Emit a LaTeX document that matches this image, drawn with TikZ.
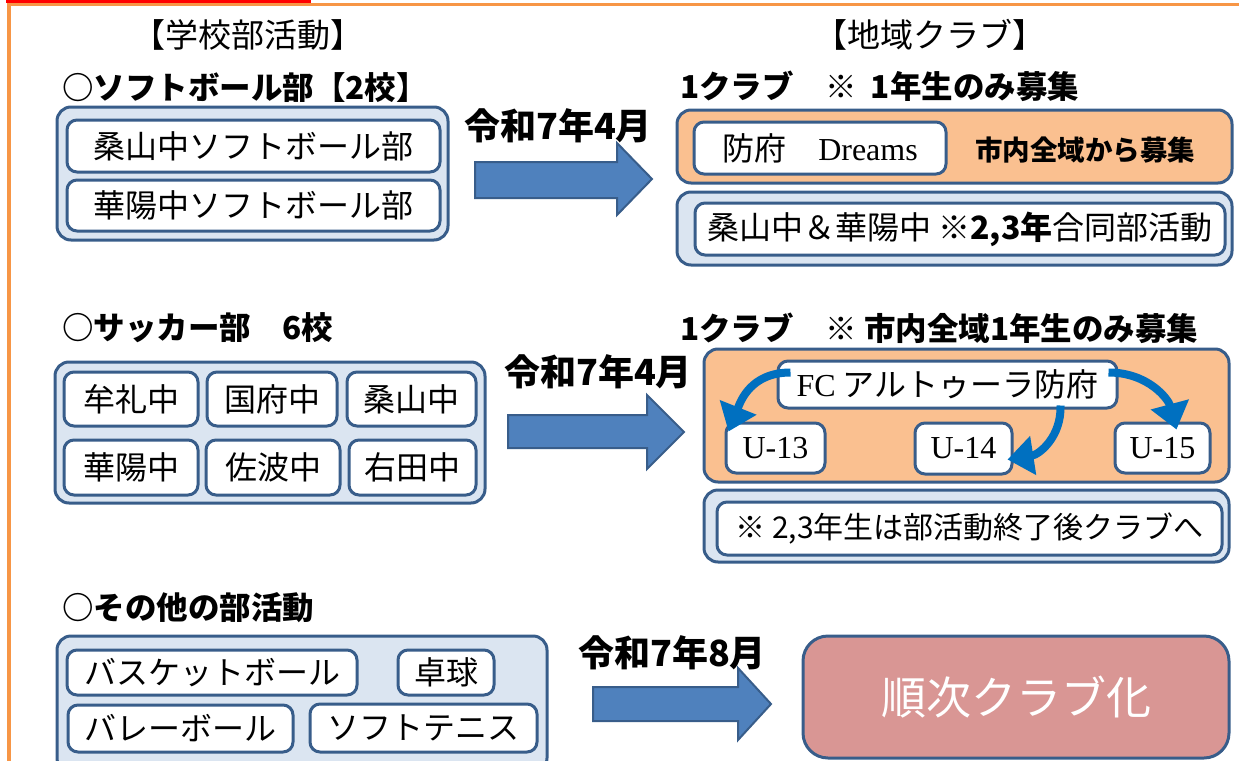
\documentclass[tikz,border=0pt]{standalone}
\usepackage{fontspec}
\setmainfont{Noto Sans CJK JP}
\newfontfamily\latinserif{Liberation Serif}
\usetikzlibrary{arrows.meta, calc}

\definecolor{navy}{HTML}{385D8A}
\definecolor{paleblue}{HTML}{DBE5F1}
\definecolor{peach}{HTML}{FAC090}
\definecolor{rose}{HTML}{D99694}
\definecolor{steel}{HTML}{4F81BD}
\definecolor{vivid}{HTML}{0070C0}
\definecolor{frame}{HTML}{F79646}

\begin{document}
\begin{tikzpicture}[
          x=1pt, y=-1pt,
          panel/.style={draw=navy,line width=3pt,fill=paleblue,rounded corners=14pt},
          cell/.style={draw=navy,line width=3pt,fill=white,rounded corners=10pt,inner sep=0pt,font=\fontsize{32}{36}\selectfont},
          heading/.style={anchor=west,inner sep=0pt,font=\fontsize{31.5}{36}\selectfont\bfseries},
          when/.style={inner sep=0pt,font=\fontsize{36}{40}\selectfont\bfseries},
          push/.style={draw=navy,line width=2pt,fill=steel},
          branch/.style={draw=vivid,line width=8pt,-{Triangle[length=26pt,width=38pt]}},
        ]
        \useasboundingbox (0, 0) rectangle (1239, 760);

        % frame
        \draw[frame, line width=3.5pt] (9, 765) -- (9, 4.7) -- (1239, 4.7);
        \fill[red] (6, 0) rectangle (311, 2.7);

        \node[inner sep=0pt, font=\fontsize{33}{36}\selectfont] (hdSchool) at (248, 35) {【学校部活動】};
        \node[inner sep=0pt, font=\fontsize{33}{36}\selectfont] (hdClub) at (930, 35) {【地域クラブ】};

        % softball
        \node[heading] (ttlSoft) at (62, 88) {○ソフトボール部【2校】};
        \draw[panel] (57, 107) rectangle (448, 240);
        \node[cell, minimum width=373, minimum height=52] (sftKuwa) at (253.5, 146) {桑山中ソフトボール部};
        \node[cell, minimum width=373, minimum height=51] (sftKayo) at (253.5, 205.5) {華陽中ソフトボール部};

        \node[when] (dateSoft) at (558, 126) {令和7年4月};
        \draw[push] (475, 162) -- (617, 162) -- (617, 143) -- (652, 179) -- (617, 215) -- (617, 198) -- (475, 198) -- cycle;

        \node[heading] (clubSoft) at (680, 86) {1クラブ　※\hspace{14pt}1年生のみ募集};
        \draw[panel, fill=peach] (677, 110) rectangle (1232, 183);
        \node[cell, minimum width=252, minimum height=52] (dreams) at (820, 148) {防府　{\latinserif Dreams}};
        \node[inner sep=0pt, font=\fontsize{27.5}{32}\selectfont\bfseries] (recruit) at (1085, 150) {市内全域から募集};
        \draw[panel] (677, 192) rectangle (1232, 265);
        \node[cell, minimum width=530, minimum height=52] (joint) at (960, 229) {桑山中＆華陽中 {\bfseries ※2,3年}合同部活動};

        % soccer
        \node[heading] (ttlSoccer) at (62, 328) {○サッカー部　6校};
        \draw[panel] (55, 362) rectangle (485, 503);
        \node[cell, minimum width=134, minimum height=54] (mure) at (131, 399) {牟礼中};
        \node[cell, minimum width=130, minimum height=54] (kokufu) at (272, 399) {国府中};
        \node[cell, minimum width=129, minimum height=54] (kuwa) at (411.5, 399) {桑山中};
        \node[cell, minimum width=134, minimum height=55] (kayo) at (131, 467.5) {華陽中};
        \node[cell, minimum width=134, minimum height=55] (sawa) at (273, 467.5) {佐波中};
        \node[cell, minimum width=127, minimum height=55] (migita) at (412.5, 467.5) {右田中};

        \node[when] (dateSoccer) at (598, 372) {令和7年4月};
        \draw[push] (508, 415) -- (647, 415) -- (647, 395) -- (684, 432) -- (647, 469) -- (647, 448) -- (508, 448) -- cycle;

        \node[heading] (clubSoccer) at (680, 328) {1クラブ　※ 市内全域1年生のみ募集};
        \draw[panel, fill=peach] (704, 349) rectangle (1229, 482);
        \node[cell, minimum width=339, minimum height=47] (fc) at (947.5, 384.5) {{\latinserif FC} アルトゥーラ防府};
        \node[cell, minimum width=99, minimum height=50] (u13) at (775.5, 448) {\latinserif U-13};
        \node[cell, minimum width=97, minimum height=51] (u14) at (963.5, 448.5) {\latinserif U-14};
        \node[cell, minimum width=95, minimum height=50] (u15) at (1162.5, 448) {\latinserif U-15};

        \draw[branch] ($(fc.west)+(14,-12)$) .. controls +(-40,0) and +(12,-30) .. ($(u13.north west)+(4,10)$);
        \draw[branch] ($(fc.east)+(-10,-12)$) .. controls +(40,0) and +(-8,-30) .. ($(u15.north)+(14,8)$);
        \draw[branch] ($(fc.south east)+(-58,-4)$) .. controls +(1,31) and +(32,-5) .. ($(u14.east)+(-6,11)$);

        \draw[panel] (704, 490) rectangle (1229, 562);
        \node[cell, minimum width=505, minimum height=53, font=\fontsize{30}{36}\selectfont] (note) at (969.5, 528.5) {※ 2,3年生は部活動終了後クラブへ};

        % others
        \node[heading] (ttlOther) at (62, 608) {○その他の部活動};
        \draw[panel] (57, 636) rectangle (547, 772);
        \node[cell, minimum width=290, minimum height=45] (basket) at (212, 672.5) {バスケットボール};
        \node[cell, minimum width=96, minimum height=45] (takkyu) at (446, 672.5) {卓球};
        \node[cell, minimum width=225, minimum height=47] (volley) at (180.5, 728.5) {バレーボール};
        \node[cell, minimum width=227, minimum height=48] (tennis) at (423.5, 728) {ソフトテニス};

        \node[when] (dateOther) at (672, 653) {令和7年8月};
        \draw[push] (593, 687) -- (738, 687) -- (738, 668) -- (771, 704) -- (738, 740) -- (738, 721) -- (593, 721) -- cycle;

        \node[cell, fill=rose, rounded corners=25pt, minimum width=426, minimum height=122, text=white, font=\fontsize{45}{50}\selectfont] (junji) at (1016, 697) {順次クラブ化};

      \end{tikzpicture}
\end{document}
